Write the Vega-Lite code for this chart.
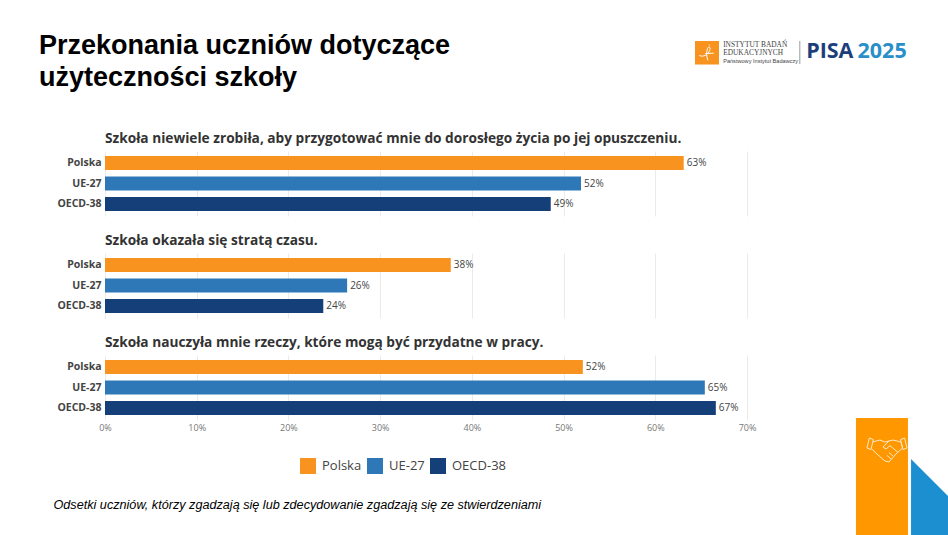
{
  "$schema": "https://vega.github.io/schema/vega-lite/v6.json",
  "padding": {"left": 39, "top": 31, "right": 0, "bottom": 0},
  "background": "white",
  "title": {
    "text": ["Przekonania uczniów dotyczące", "użyteczności szkoły"],
    "anchor": "start",
    "frame": "bounds",
    "font": "Liberation Sans",
    "fontSize": 27,
    "fontWeight": "bold",
    "lineHeight": 32,
    "color": "#000000",
    "dx": -14,
    "offset": -51
  },
  "datasets": {
    "wyniki": [
      {"pytanie": "A", "grupa": "Polska", "odsetek": 0.631},
      {"pytanie": "A", "grupa": "UE-27", "odsetek": 0.519},
      {"pytanie": "A", "grupa": "OECD-38", "odsetek": 0.486},
      {"pytanie": "B", "grupa": "Polska", "odsetek": 0.377},
      {"pytanie": "B", "grupa": "UE-27", "odsetek": 0.264},
      {"pytanie": "B", "grupa": "OECD-38", "odsetek": 0.238},
      {"pytanie": "C", "grupa": "Polska", "odsetek": 0.521},
      {"pytanie": "C", "grupa": "UE-27", "odsetek": 0.654},
      {"pytanie": "C", "grupa": "OECD-38", "odsetek": 0.666}
    ]
  },
  "bounds": "flush",
  "spacing": 37,
  "resolve": {"scale": {"color": "shared"}, "legend": {"color": "independent"}},
  "vconcat": [
    {
      "width": 642,
      "height": 73,
      "data": {"values": [{"element": "logo"}]},
      "layer": [
        {"mark": {"type": "rect", "color": "#f7931e"}, "encoding": {
          "x": {"datum": 0.6433, "axis": null, "scale": {"domain": [0, 0.7]}}, "x2": {"datum": 0.6695},
          "y": {"datum": 40, "axis": null, "scale": {"domain": [113, 40]}}, "y2": {"datum": 63.5}}},
        {"mark": {"type": "point", "filled": false, "stroke": "white", "strokeWidth": 1, "opacity": 1, "size": 324, "shape": "M-.85,.3 C-.4,.55 .1,.2 .3,-.25 C.45,-.6 .2,-.8 .05,-.45 C-.1,0 -.05,.5 .1,.85 M.25,-.9 L.3,-.8 M-.2,.1 L.75,.05"}, "encoding": {
          "x": {"datum": 0.6564, "axis": null, "scale": {"domain": [0, 0.7]}},
          "y": {"datum": 51.7, "axis": null, "scale": {"domain": [113, 40]}}}},
        {"mark": {"type": "text", "align": "left", "font": "Liberation Serif", "fontSize": 7.4, "color": "#444444", "text": "INSTYTUT  BADAŃ"}, "encoding": {
          "x": {"datum": 0.6740, "axis": null, "scale": {"domain": [0, 0.7]}},
          "y": {"datum": 44, "axis": null, "scale": {"domain": [113, 40]}}}},
        {"mark": {"type": "text", "align": "left", "font": "Liberation Serif", "fontSize": 7.4, "color": "#444444", "text": "EDUKACYJNYCH"}, "encoding": {
          "x": {"datum": 0.6740, "axis": null, "scale": {"domain": [0, 0.7]}},
          "y": {"datum": 52, "axis": null, "scale": {"domain": [113, 40]}}}},
        {"mark": {"type": "text", "align": "left", "font": "Liberation Sans", "fontSize": 5.6, "color": "#444444", "text": "Państwowy Instytut Badawczy"}, "encoding": {
          "x": {"datum": 0.6740, "axis": null, "scale": {"domain": [0, 0.7]}},
          "y": {"datum": 60, "axis": null, "scale": {"domain": [113, 40]}}}},
        {"mark": {"type": "rule", "color": "#999999", "strokeWidth": 1}, "encoding": {
          "x": {"datum": 0.7576, "axis": null, "scale": {"domain": [0, 0.7]}},
          "y": {"datum": 40, "axis": null, "scale": {"domain": [113, 40]}}, "y2": {"datum": 63}}},
        {"mark": {"type": "text", "align": "left", "font": "Open Sans", "fontWeight": "bold", "fontSize": 21.5, "color": "#1c3f7c", "text": "PISA"}, "encoding": {
          "x": {"datum": 0.7645, "axis": null, "scale": {"domain": [0, 0.7]}},
          "y": {"datum": 50.5, "axis": null, "scale": {"domain": [113, 40]}}}},
        {"mark": {"type": "text", "align": "left", "font": "Open Sans", "fontWeight": "bold", "fontSize": 21.5, "color": "#2a8fc9", "text": "2025"}, "encoding": {
          "x": {"datum": 0.8205, "axis": null, "scale": {"domain": [0, 0.7]}},
          "y": {"datum": 50.5, "axis": null, "scale": {"domain": [113, 40]}}}}
      ]
    },
    {
      "width": 642,
      "height": 65,
      "title": {"text": "Szkoła niewiele zrobiła, aby przygotować mnie do dorosłego życia po jej opuszczeniu."},
      "data": {"name": "wyniki"},
      "transform": [{"filter": "datum.pytanie == 'A'"}],
      "encoding": {
        "x": {"field": "odsetek", "type": "quantitative", "scale": {"domain": [0, 0.7]}, "axis": {"title": null, "labels": false, "values": [0, 0.1, 0.2, 0.3, 0.4, 0.5, 0.6, 0.7]}},
        "y": {"field": "grupa", "type": "nominal", "title": null, "sort": ["Polska", "UE-27", "OECD-38"], "scale": {"paddingInner": 0.317, "paddingOuter": 0.244}}
      },
      "layer": [
        {"mark": {"type": "bar"}, "encoding": {"color": {"field": "grupa", "type": "nominal", "sort": ["Polska", "UE-27", "OECD-38"], "scale": {"domain": ["Polska", "UE-27", "OECD-38"], "range": ["#f7931e", "#2e78b7", "#143f78"]}, "legend": null}}},
        {"mark": {"type": "text", "align": "left", "dx": 3, "fontSize": 10, "font": "Open Sans", "color": "#444444"}, "encoding": {"text": {"field": "odsetek", "type": "quantitative", "format": ".0%"}}}
      ]
    },
    {
      "width": 642,
      "height": 65,
      "title": {"text": "Szkoła okazała się stratą czasu."},
      "data": {"name": "wyniki"},
      "transform": [{"filter": "datum.pytanie == 'B'"}],
      "encoding": {
        "x": {"field": "odsetek", "type": "quantitative", "scale": {"domain": [0, 0.7]}, "axis": {"title": null, "labels": false, "values": [0, 0.1, 0.2, 0.3, 0.4, 0.5, 0.6, 0.7]}},
        "y": {"field": "grupa", "type": "nominal", "title": null, "sort": ["Polska", "UE-27", "OECD-38"], "scale": {"paddingInner": 0.317, "paddingOuter": 0.244}}
      },
      "layer": [
        {"mark": {"type": "bar"}, "encoding": {"color": {"field": "grupa", "type": "nominal", "sort": ["Polska", "UE-27", "OECD-38"], "legend": null}}},
        {"mark": {"type": "text", "align": "left", "dx": 3, "fontSize": 10, "font": "Open Sans", "color": "#444444"}, "encoding": {"text": {"field": "odsetek", "type": "quantitative", "format": ".0%"}}}
      ]
    },
    {
      "width": 642,
      "height": 65,
      "title": {"text": "Szkoła nauczyła mnie rzeczy, które mogą być przydatne w pracy."},
      "layer": [
        {
          "data": {"name": "wyniki"},
          "transform": [{"filter": "datum.pytanie == 'C'"}],
          "encoding": {
            "x": {"field": "odsetek", "type": "quantitative", "scale": {"domain": [0, 0.7]}, "axis": {
              "format": ".0%", "values": [0, 0.1, 0.2, 0.3, 0.4, 0.5, 0.6, 0.7],
              "title": "Odsetki uczniów, którzy zgadzają się lub zdecydowanie zgadzają się ze stwierdzeniami",
              "titleAnchor": "start", "titleAlign": "left", "titleX": -52, "titleY": 78,
              "titleFont": "Liberation Sans", "titleFontStyle": "italic", "titleFontWeight": "normal", "titleFontSize": 12.65, "titleColor": "#000000"
            }},
            "y": {"field": "grupa", "type": "nominal", "title": null, "sort": ["Polska", "UE-27", "OECD-38"], "scale": {"paddingInner": 0.317, "paddingOuter": 0.244}}
          },
          "layer": [
            {"mark": {"type": "bar"}, "encoding": {"color": {"field": "grupa", "type": "nominal", "sort": ["Polska", "UE-27", "OECD-38"], "legend": {
              "title": null, "orient": "none", "legendX": 195, "legendY": 103, "direction": "horizontal", "symbolType": "square", "symbolSize": 256, "symbolStrokeWidth": 0, "symbolOpacity": 1,
              "labelFont": "Open Sans", "labelFontSize": 13, "labelColor": "#444444", "columnPadding": 5, "labelOffset": 6
            }}}},
            {"mark": {"type": "text", "align": "left", "dx": 3, "fontSize": 10, "font": "Open Sans", "color": "#444444"}, "encoding": {"text": {"field": "odsetek", "type": "quantitative", "format": ".0%"}}}
          ]
        },
        {
          "data": {"values": [{"element": "narożnik"}]},
          "layer": [
            {"mark": {"type": "rect", "color": "#ff9800"}, "encoding": {
              "x": {"datum": 0.8188, "scale": {"domain": [0, 0.7]}}, "x2": {"datum": 0.8755},
              "y": {"datum": 417, "axis": null, "scale": {"domain": [419, 354]}}, "y2": {"datum": 536}}},
            {"mark": {"type": "point", "filled": false, "stroke": "#ffe9c9", "strokeWidth": 1, "opacity": 1, "size": 1600, "shape": "M-1,-.1 L-.88,-.6 L-.68,-.52 L-.8,-.02 Z M1,-.1 L.88,-.6 L.68,-.52 L.8,-.02 Z M-.72,-.4 L-.35,-.5 L-.1,-.4 L.3,-.5 L.7,-.4 L.78,-.1 L.45,.2 L.1,.6 L-.1,.55 L-.5,.2 L-.76,-.05 M.1,-.45 L-.2,-.15 L-.05,-.05 L.15,-.22 L.55,.12 M.3,.3 L.1,.12 M.2,.45 L0,.27"}, "encoding": {
              "x": {"datum": 0.8526, "scale": {"domain": [0, 0.7]}},
              "y": {"datum": 449, "axis": null, "scale": {"domain": [419, 354]}}}},
            {"mark": {"type": "point", "filled": true, "fill": "#1c8fd0", "strokeWidth": 0, "opacity": 1, "size": 5929, "shape": "M-.48,-1 L.48,-.04 L.48,1 L-.48,1 Z"}, "encoding": {
              "x": {"datum": 0.8990, "scale": {"domain": [0, 0.7]}},
              "y": {"datum": 496.5, "axis": null, "scale": {"domain": [419, 354]}}}}
          ]
        }
      ],
      "resolve": {"scale": {"y": "independent"}, "axis": {"y": "independent"}}
    }
  ],
  "config": {
    "view": {"stroke": null},
    "title": {"anchor": "start", "frame": "group", "font": "Open Sans", "fontSize": 13.7, "fontWeight": "bold", "color": "#333333", "offset": 5},
    "axisX": {"grid": true, "gridColor": "#ebebeb", "domain": false, "ticks": false, "labelFlush": false, "labelFont": "Open Sans", "labelFontSize": 9, "labelColor": "#777777", "labelPadding": 3},
    "axisY": {"grid": false, "domain": false, "ticks": false, "labelFont": "Open Sans", "labelFontSize": 10.5, "labelFontWeight": "bold", "labelColor": "#444444", "labelPadding": 4}
  }
}
